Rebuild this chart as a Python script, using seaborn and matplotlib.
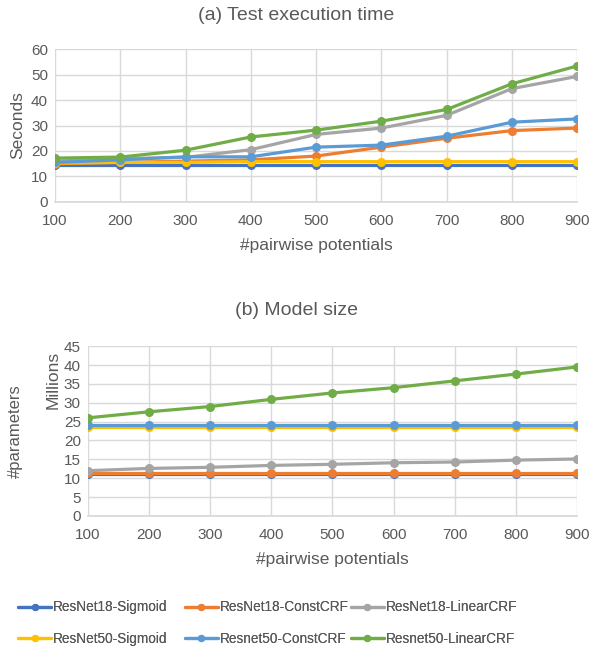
import pandas as pd
import seaborn as sns
import matplotlib.pyplot as plt

# pairwise potentials on the x axis
pairwise = [100, 200, 300, 400, 500, 600, 700, 800, 900]

series_names = ['ResNet18-Sigmoid', 'ResNet18-ConstCRF', 'ResNet18-LinearCRF',
                'ResNet50-Sigmoid', 'Resnet50-ConstCRF', 'Resnet50-LinearCRF']
colors = ['#4472C4', '#ED7D31', '#A5A5A5', '#FFC000', '#5B9BD5', '#70AD47']

# (a) test execution time, seconds
time_r18_sigmoid = [14.5, 14.5, 14.5, 14.5, 14.5, 14.5, 14.5, 14.5, 14.5]
time_r18_const = [15.0, 15.5, 16.0, 16.5, 18.0, 21.5, 25.0, 28.0, 29.0]
time_r18_linear = [16.0, 17.0, 17.5, 20.5, 26.5, 29.0, 34.0, 44.5, 49.3]
time_r50_sigmoid = [15.2, 15.5, 15.5, 15.8, 15.8, 15.8, 15.8, 15.8, 15.8]
time_r50_const = [15.5, 16.5, 17.7, 17.7, 21.5, 22.3, 25.8, 31.3, 32.6]
time_r50_linear = [17.2, 17.6, 20.3, 25.5, 28.2, 31.7, 36.3, 46.4, 53.4]

# (b) model size, millions of parameters
size_r18_sigmoid = [11.2, 11.2, 11.2, 11.2, 11.2, 11.2, 11.2, 11.2, 11.2]
size_r18_const = [11.5, 11.5, 11.5, 11.5, 11.5, 11.5, 11.5, 11.5, 11.5]
size_r18_linear = [12.0, 12.6, 12.9, 13.4, 13.7, 14.1, 14.3, 14.8, 15.1]
size_r50_sigmoid = [23.5, 23.5, 23.5, 23.5, 23.5, 23.5, 23.5, 23.5, 23.5]
size_r50_const = [24.0, 24.0, 24.0, 24.0, 24.0, 24.0, 24.0, 24.0, 24.0]
size_r50_linear = [26.0, 27.6, 29.0, 30.9, 32.6, 34.0, 35.8, 37.6, 39.5]

time_data = [time_r18_sigmoid, time_r18_const, time_r18_linear,
             time_r50_sigmoid, time_r50_const, time_r50_linear]
size_data = [size_r18_sigmoid, size_r18_const, size_r18_linear,
             size_r50_sigmoid, size_r50_const, size_r50_linear]


def to_long(data):
    rows = []
    for name, vals in zip(series_names, data):
        for x, v in zip(pairwise, vals):
            rows.append({'x': x, 'y': v, 'model': name})
    return pd.DataFrame(rows)


sns.set_theme(style='white')
plt.rcParams['font.family'] = ['Liberation Sans', 'DejaVu Sans']
txt = '#595959'
grid = '#D9D9D9'

fig = plt.figure(figsize=(5.89, 6.47), dpi=100)
ax1 = fig.add_axes([0.0934, 0.688, 0.8866, 0.236])
ax2 = fig.add_axes([0.149, 0.2025, 0.831, 0.2625])

palette = dict(zip(series_names, colors))
for ax, data in [(ax1, time_data), (ax2, size_data)]:
    sns.lineplot(data=to_long(data), x='x', y='y', hue='model', palette=palette,
                 marker='o', markersize=6.5, markeredgewidth=0, linewidth=2.3,
                 ax=ax, legend=True)
    ax.set_xlim(100, 900)
    ax.set_xticks(pairwise)
    ax.grid(True, color=grid, linewidth=1)
    for s in ['top', 'right', 'left']:
        ax.spines[s].set_visible(False)
    ax.spines['bottom'].set_color(grid)
    ax.tick_params(colors=txt, labelsize=11, length=0)
    ax.tick_params(axis='x', pad=9)
    ax.tick_params(axis='y', pad=5)
    ax.set_xlabel('#pairwise potentials', color=txt, fontsize=12.5, labelpad=7)

ax1.set_ylim(0, 60)
ax1.set_yticks(range(0, 61, 10))
ax1.set_ylabel('Seconds', color=txt, fontsize=12.5, labelpad=4)

ax2.set_ylim(0, 45)
ax2.set_yticks(range(0, 46, 5))
ax2.set_ylabel('')
fig.text(0.091, 0.413, 'Millions', rotation=90, color=txt, fontsize=12.5,
         ha='center', va='center')
fig.text(0.026, 0.334, '#parameters', rotation=90, color=txt, fontsize=12,
         ha='center', va='center')

fig.text(0.503, 0.976, '(a) Test execution time', color=txt, fontsize=14,
         ha='center', va='center')
fig.text(0.503, 0.52, '(b) Model size', color=txt, fontsize=14,
         ha='center', va='center')

handles, labels = ax1.get_legend_handles_labels()
ax1.get_legend().remove()
ax2.get_legend().remove()
# three legend columns, each with two rows, placed like the original
col_x = [0.031, 0.314, 0.596]
for c, x0 in enumerate(col_x):
    idx = [c, c + 3]
    leg = fig.legend([handles[i] for i in idx], [labels[i] for i in idx],
                     loc='upper left', bbox_to_anchor=(x0, 0.072), frameon=False,
                     fontsize=9.8, handlelength=2.4, handletextpad=0.15,
                     labelcolor=txt, labelspacing=1.3, borderpad=0,
                     borderaxespad=0, markerscale=0.8)
    fig.add_artist(leg)

fig.savefig('out.png', dpi=100)
